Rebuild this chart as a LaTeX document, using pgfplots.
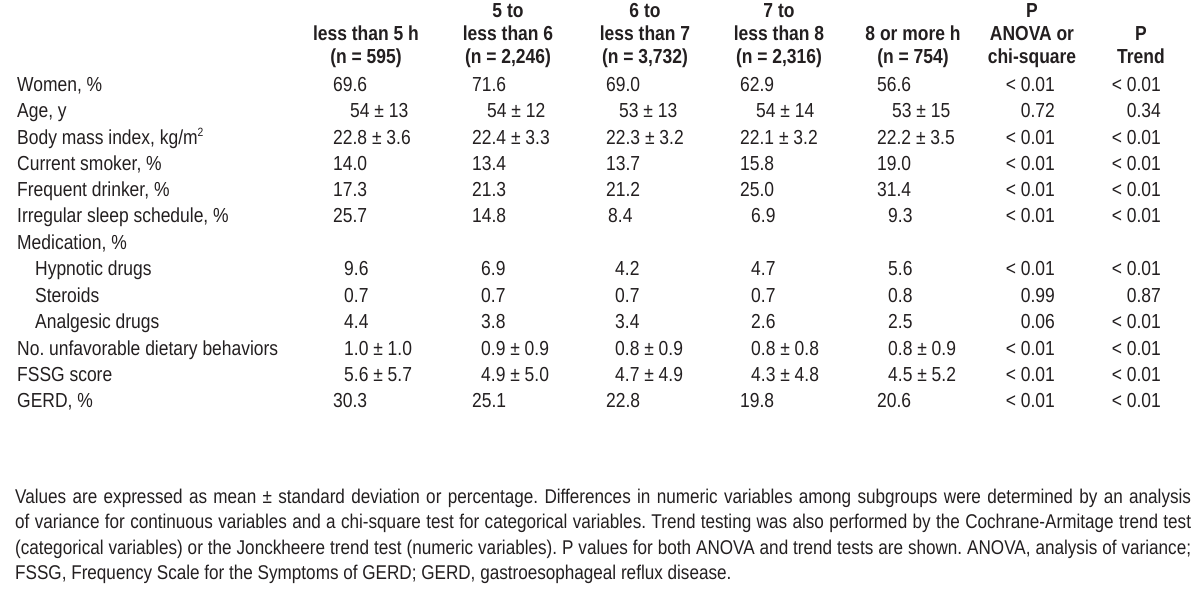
\documentclass[border=0pt]{standalone}
\usepackage{fontspec}
\setmainfont{Liberation Sans}[FakeStretch=0.86]
\usepackage{pgfplots}
\pgfplotsset{compat=1.18}
\definecolor{tx}{HTML}{231F20}
\newcommand{\fs}{\fontsize{20.3}{24}\selectfont\frenchspacing}
\newcommand{\ffs}{\fontsize{19.9}{24}\selectfont\frenchspacing}
\begin{document}
\begin{tikzpicture}[every node/.style={font=\fs, text=tx, inner sep=0pt}]
\begin{axis}[name=ax, hide axis, scale only axis, width=1200pt, height=590pt,
  xmin=0, xmax=1200, ymin=0, ymax=590, y dir=reverse, clip=false]
\addplot[draw=none] coordinates {(0,0) (1200,590)};
% ---------- headers ----------
\def\hy#1#2#3{\node[font=\fs\bfseries, anchor=base] at (axis cs:#1,#2) {#3};}
\hy{508}{17}{5 to}\hy{645}{17}{6 to}\hy{779}{17}{7 to}\hy{1032}{17}{P}
\hy{366}{40}{less than 5 h}\hy{508}{40}{less than 6}\hy{645}{40}{less than 7}
\hy{779}{40}{less than 8}\hy{913}{40}{8 or more h}\hy{1032}{40}{ANOVA or}\hy{1141}{40}{P}
\hy{366}{63}{(n = 595)}\hy{508}{63}{(n = 2,246)}\hy{645}{63}{(n = 3,732)}
\hy{779}{63}{(n = 2,316)}\hy{913}{63}{(n = 754)}\hy{1032}{63}{chi-square}\hy{1141}{63}{Trend}
% ---------- body ----------
\def\lab#1#2#3{\node[anchor=base west] at (axis cs:#2,#1) {#3};}
\def\val#1#2#3{\node[anchor=base west] at (axis cs:#1,#2) {#3};}
\def\pv#1#2#3{\node[anchor=base east] at (axis cs:#1,#2) {#3};}
\def\rowA#1#2#3#4#5#6{\val{333}{#1}{#2}\val{472}{#1}{#3}\val{606}{#1}{#4}\val{740}{#1}{#5}\val{877}{#1}{#6}}
\def\rowB#1#2#3#4#5#6{\val{344}{#1}{#2}\val{481}{#1}{#3}\val{615}{#1}{#4}\val{751}{#1}{#5}\val{888}{#1}{#6}}
\def\rowC#1#2#3#4#5#6{\val{350}{#1}{#2}\val{487}{#1}{#3}\val{619}{#1}{#4}\val{756}{#1}{#5}\val{892}{#1}{#6}}
\def\ps#1#2#3{\pv{1055}{#1}{#2}\pv{1161}{#1}{#3}}

\lab{91}{17}{Women, \%}\rowA{91}{69.6}{71.6}{69.0}{62.9}{56.6}\ps{91}{< 0.01}{< 0.01}
\lab{117}{17}{Age, y}\rowC{117}{54 ± 13}{54 ± 12}{53 ± 13}{54 ± 14}{53 ± 15}\ps{117}{0.72}{0.34}
\lab{144}{17}{Body mass index, kg/m\textsuperscript{\fontsize{12}{12}\selectfont 2}}\rowA{144}{22.8 ± 3.6}{22.4 ± 3.3}{22.3 ± 3.2}{22.1 ± 3.2}{22.2 ± 3.5}\ps{144}{< 0.01}{< 0.01}
\lab{170}{17}{Current smoker, \%}\rowA{170}{14.0}{13.4}{13.7}{15.8}{19.0}\ps{170}{< 0.01}{< 0.01}
\lab{196}{17}{Frequent drinker, \%}\rowA{196}{17.3}{21.3}{21.2}{25.0}{31.4}\ps{196}{< 0.01}{< 0.01}
\lab{222}{17}{Irregular sleep schedule, \%}\val{333}{222}{25.7}\val{472}{222}{14.8}\val{608}{222}{8.4}\val{751}{222}{6.9}\val{888}{222}{9.3}\ps{222}{< 0.01}{< 0.01}
\lab{249}{17}{Medication, \%}
\lab{275}{35}{Hypnotic drugs}\rowB{275}{9.6}{6.9}{4.2}{4.7}{5.6}\ps{275}{< 0.01}{< 0.01}
\lab{302}{35}{Steroids}\rowB{302}{0.7}{0.7}{0.7}{0.7}{0.8}\ps{302}{0.99}{0.87}
\lab{328}{35}{Analgesic drugs}\rowB{328}{4.4}{3.8}{3.4}{2.6}{2.5}\ps{328}{0.06}{< 0.01}
\lab{355}{17}{No. unfavorable dietary behaviors}\rowB{355}{1.0 ± 1.0}{0.9 ± 0.9}{0.8 ± 0.9}{0.8 ± 0.8}{0.8 ± 0.9}\ps{355}{< 0.01}{< 0.01}
\lab{381}{17}{FSSG score}\rowB{381}{5.6 ± 5.7}{4.9 ± 5.0}{4.7 ± 4.9}{4.3 ± 4.8}{4.5 ± 5.2}\ps{381}{< 0.01}{< 0.01}
\lab{407}{17}{GERD, \%}\rowA{407}{30.3}{25.1}{22.8}{19.8}{20.6}\ps{407}{< 0.01}{< 0.01}
% ---------- footnote ----------
\def\fl#1#2{\node[font=\ffs, anchor=base west] at (axis cs:15,#1) {\hbox to 1176pt{#2}};}
\def\fe#1#2{\node[font=\ffs, anchor=base west] at (axis cs:15,#1) {#2};}
\fl{503}{Values are expressed as mean ± standard deviation or percentage. Differences in numeric variables among subgroups were determined by an analysis}
\fl{528}{of variance for continuous variables and a chi-square test for categorical variables. Trend testing was also performed by the Cochrane-Armitage trend test}
\fl{554}{(categorical variables) or the Jonckheere trend test (numeric variables). P values for both ANOVA and trend tests are shown. ANOVA, analysis of variance;}
\fe{579}{FSSG, Frequency Scale for the Symptoms of GERD; GERD, gastroesophageal reflux disease.}
\end{axis}
\pgfresetboundingbox
\useasboundingbox (ax.south west) rectangle (ax.north east);
\end{tikzpicture}
\end{document}
